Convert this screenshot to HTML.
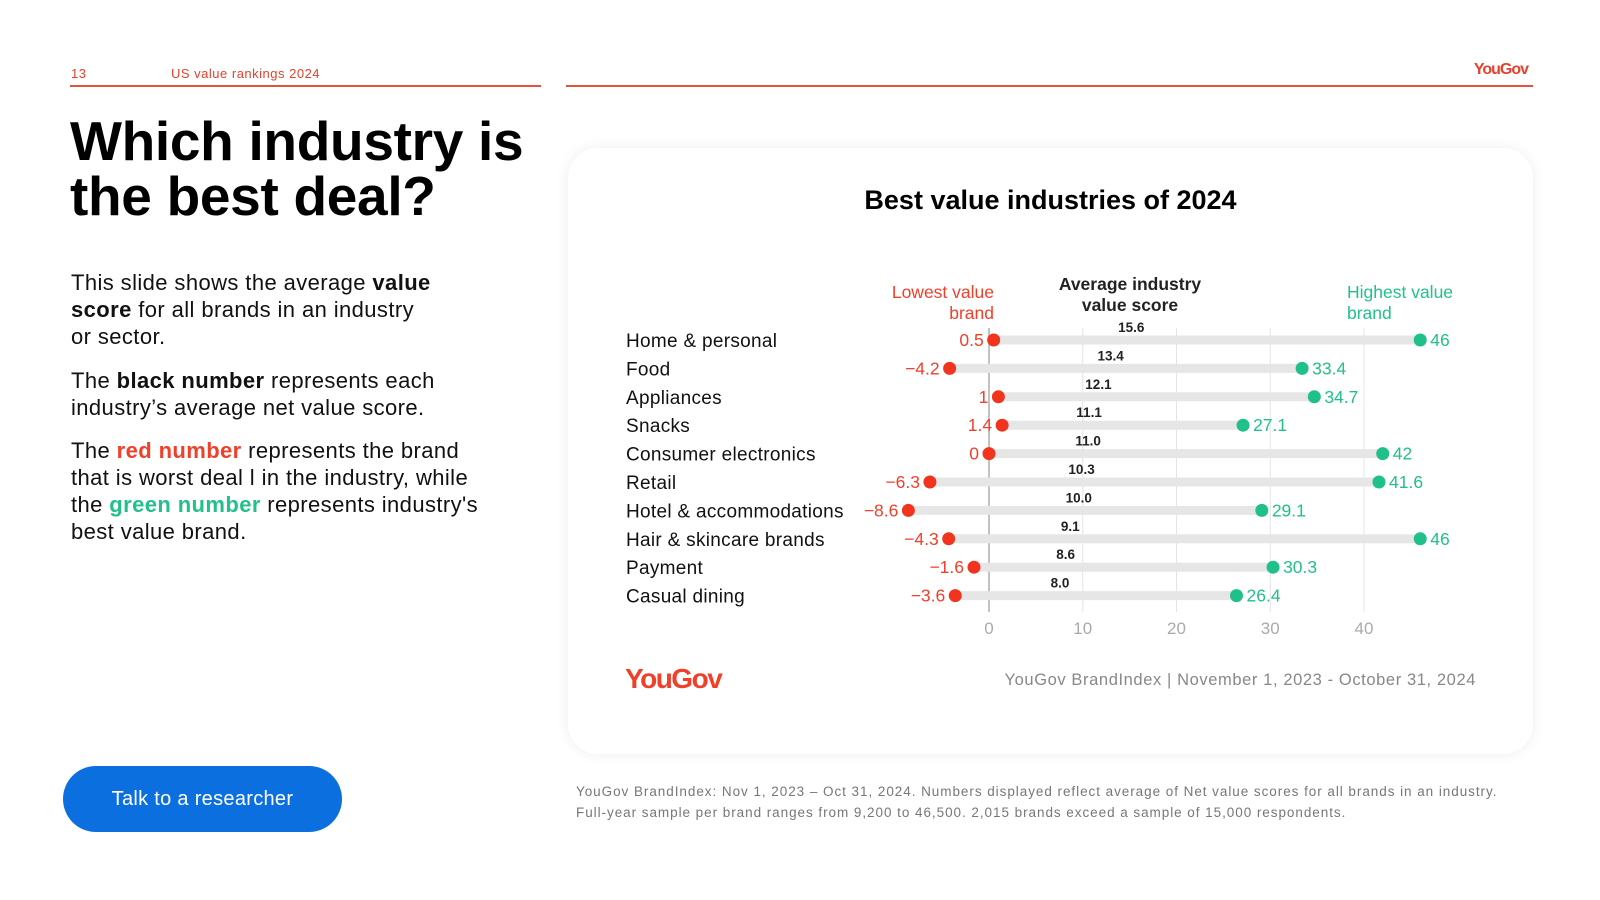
<!DOCTYPE html>
<html><head><meta charset="utf-8">
<style>
*{margin:0;padding:0;box-sizing:border-box}
body{width:1600px;height:900px;background:#fff;font-family:"Liberation Sans",sans-serif;position:relative;overflow:hidden;color:#111}
.abs{position:absolute}
.hdr{font-size:13px;color:#e5412d;letter-spacing:0.5px}
.line{height:2px;background:#e0533f}
h1{position:absolute;left:70px;top:114px;font-size:55px;line-height:55px;font-weight:bold;letter-spacing:-0.3px;color:#000}
.p{position:absolute;left:71px;font-size:22px;line-height:27px;color:#111;white-space:nowrap;letter-spacing:0.4px}
.btn{left:63px;top:766px;width:279px;height:66px;background:#0b6fe0;border-radius:33px;color:#fff;font-size:20px;display:flex;align-items:center;justify-content:center;letter-spacing:0.3px}
.card{left:568px;top:148px;width:965px;height:606px;background:#fff;border-radius:30px;box-shadow:0 0 14px rgba(0,0,0,0.07)}
.foot{left:576px;top:781px;font-size:13.5px;line-height:21px;color:#777;letter-spacing:0.95px;white-space:nowrap}
</style></head><body>
<div class="abs hdr" style="left:71px;top:66px">13</div>
<div class="abs hdr" style="left:171px;top:66px">US value rankings 2024</div>
<div class="abs" style="right:72px;top:61px;font-size:16px;font-weight:bold;color:#e5412d;letter-spacing:-1px">YouGov</div>
<div class="abs line" style="left:70px;top:85px;width:471px"></div>
<div class="abs line" style="left:566px;top:85px;width:967px"></div>
<h1>Which industry is<br>the best deal?</h1>
<div class="p" style="top:269px">This slide shows the average <b>value</b><br><b>score</b> for all brands in an industry<br>or sector.</div>
<div class="p" style="top:367px">The <b>black number</b> represents each<br>industry’s average net value score.</div>
<div class="p" style="top:437px">The <b style="color:#f0402a">red number</b> represents the brand<br>that is worst deal l in the industry, while<br>the <b style="color:#22c08a">green number</b> represents industry's<br>best value brand.</div>
<div class="abs btn">Talk to a researcher</div>
<div class="abs card"></div>
<div class="abs" style="left:568px;width:965px;top:185px;text-align:center;font-size:27px;font-weight:bold;letter-spacing:0;color:#000">Best value industries of 2024</div>
<svg class="abs" style="left:0;top:0" width="1600" height="900" id="chart"></svg>
<div class="abs" style="left:625px;top:663px;font-size:28px;font-weight:bold;color:#f0402a;letter-spacing:-1.5px">YouGov</div>
<div class="abs" style="right:124px;top:671px;font-size:16.5px;color:#888;letter-spacing:0.6px">YouGov BrandIndex | November 1, 2023 - October 31, 2024</div>
<div class="abs foot">YouGov BrandIndex: Nov 1, 2023 – Oct 31, 2024. Numbers displayed reflect average of Net value scores for all brands in an industry.<br>Full-year sample per brand ranges from 9,200 to 46,500. 2,015 brands exceed a sample of 15,000 respondents.</div>
<script>
const categories=["Home & personal","Food","Appliances","Snacks","Consumer electronics","Retail","Hotel & accommodations","Hair & skincare brands","Payment","Casual dining"];
const lowValues=[0.5,-4.2,1,1.4,0,-6.3,-8.6,-4.3,-1.6,-3.6];
const lowLabels=["0.5","−4.2","1","1.4","0","−6.3","−8.6","−4.3","−1.6","−3.6"];
const avgValues=[15.6,13.4,12.1,11.1,11.0,10.3,10.0,9.1,8.6,8.0];
const avgLabels=["15.6","13.4","12.1","11.1","11.0","10.3","10.0","9.1","8.6","8.0"];
const highValues=[46,33.4,34.7,27.1,42,41.6,29.1,46,30.3,26.4];
const highLabels=["46","33.4","34.7","27.1","42","41.6","29.1","46","30.3","26.4"];
const ticks=[0,10,20,30,40];
const svg=document.getElementById('chart');
const NS='http://www.w3.org/2000/svg';
const x=v=>989+v*9.375;
const y=i=>340+i*28.4;
function mk(tag,attrs,txt){const e=document.createElementNS(NS,tag);for(const k in attrs)e.setAttribute(k,attrs[k]);if(txt!==undefined)e.textContent=txt;svg.appendChild(e);return e;}
const F='Liberation Sans, sans-serif';
ticks.forEach(t=>{
  const g=mk('line',{x1:x(t),x2:x(t),y1:328,y2:612,stroke:t===0?'#999':'#e4e4e4','stroke-width':t===0?1.2:1});
  
  
  const l=mk('text',{x:x(t),y:634,'text-anchor':'middle','font-family':F,'font-size':17,fill:'#aaa'},String(t));
  
  
});
const h1=mk('text',{x:994,y:298,'text-anchor':'end','font-family':F,'font-size':17.5,fill:'#f0402a'});


h1.innerHTML='<tspan x="994">Lowest value</tspan><tspan x="994" dy="21">brand</tspan>';
const h2=mk('text',{x:1130,y:290,'text-anchor':'middle','font-family':F,'font-size':17.5,'font-weight':'bold',fill:'#222'});


h2.innerHTML='<tspan x="1130">Average industry</tspan><tspan x="1130" dy="21">value score</tspan>';
const h3=mk('text',{x:1347,y:298,'font-family':F,'font-size':17.5,fill:'#22c08a'});


h3.innerHTML='<tspan x="1347">Highest value</tspan><tspan x="1347" dy="21">brand</tspan>';
categories.forEach((c,i)=>{
  const yy=y(i);
  const cl=mk('text',{x:626,y:yy+7,'font-family':F,'font-size':19,'letter-spacing':0.3,fill:'#111'},c);
  
  
  const bar=mk('line',{x1:x(lowValues[i]),x2:x(highValues[i]),y1:yy,y2:yy,stroke:'#e6e6e6','stroke-width':9});
  
  
  const al=mk('text',{x:x(avgValues[i])-4,y:yy-8,'text-anchor':'middle','font-family':F,'font-size':13.5,'font-weight':'bold',fill:'#222'},avgLabels[i]);
  
  
  const lp=mk('circle',{cx:x(lowValues[i]),cy:yy,r:6.5,fill:'#f0341e'});
  
  
  const ll=mk('text',{x:x(lowValues[i])-10,y:yy+6,'text-anchor':'end','font-family':F,'font-size':17.5,fill:'#f0402a'},lowLabels[i]);
  
  
  const hp=mk('circle',{cx:x(highValues[i]),cy:yy,r:6.5,fill:'#1fc08a'});
  
  
  const hl=mk('text',{x:x(highValues[i])+10,y:yy+6,'font-family':F,'font-size':17.5,fill:'#22c08a'},highLabels[i]);
  
  
});
</script>
</body></html>
